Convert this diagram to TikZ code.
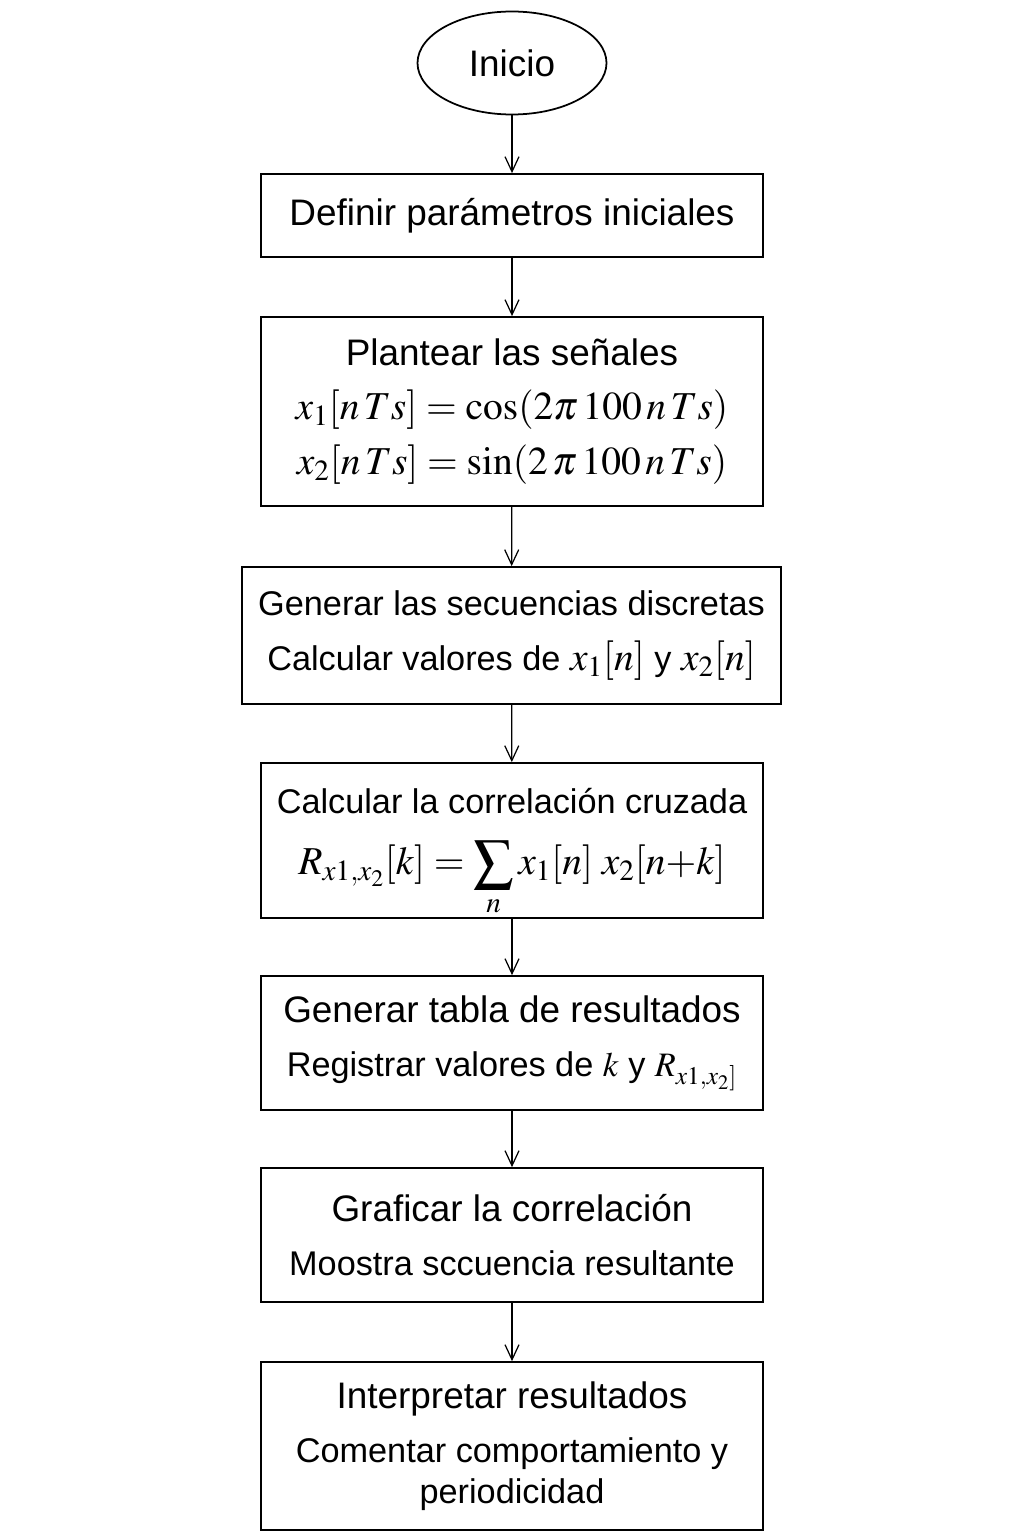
\documentclass[tikz,border=0pt]{standalone}
\usepackage{amsmath}
\usepackage{mathptmx}
\usepackage[no-math]{fontspec}
\setmainfont{Liberation Sans}
\usepackage{tikz}
\usetikzlibrary{shapes.geometric, arrows.meta}

\newcommand{\lineb}{\fontsize{19.5}{31}\selectfont}
\newcommand{\eqfont}{\fontsize{22.5}{31}\selectfont}

\begin{document}
\begin{tikzpicture}[
        box/.style = {draw, line width=1pt, rectangle, minimum width=10.04cm, align=center, inner sep=0pt,
                      font=\fontsize{21}{31}\selectfont},
        term/.style = {draw, line width=1pt, ellipse, minimum width=3.78cm, minimum height=2.06cm, inner sep=0pt,
                       font=\fontsize{21}{31}\selectfont},
        flow/.style = {-{Straight Barb[length=3mm, width=2.8mm]}, line width=0.7pt}]
                \useasboundingbox (0,0) rectangle (20.48,-30.72);

                \node[term] at (10.24, -1.26) (inicio) {Inicio};
                \node[box, minimum height=1.66cm] at (10.24, -4.31) (param) {Definir parámetros iniciales};
                \node[box, minimum height=3.78cm] at (10.24, -8.23) (senal) {Plantear las señales\\
                        \eqfont $x_1[n\,Ts] = \cos(2\pi\,100\,n\,Ts)$\\
                        \eqfont $x_2[n\,Ts] = \sin(2\,\pi\,100\,n\,Ts)$};
                \node[box, minimum height=2.74cm, minimum width=10.78cm] at (10.23, -12.71) (secu) {\lineb Generar las secuencias discretas\\
                        \lineb Calcular valores de {\eqfont$x_1[n]$} y {\eqfont$x_2[n]$}};
                \node[box, minimum height=3.10cm] at (10.24, -16.81) (corr) {\lineb\rule{0pt}{28pt}Calcular la correlación cruzada\\[4pt]
                        \eqfont $\displaystyle R_{x1,x_2}[k] = \sum_{n} x_1[n]\; x_2[n{+}k]$};
                \node[box, minimum height=2.68cm] at (10.24, -20.86) (tabla) {Generar tabla de resultados\\
                        \lineb Registrar valores de $k$ y $R_{x1,x_2]}$};
                \node[box, minimum height=2.68cm] at (10.24, -24.70) (graf) {Graficar la correlación\\
                        \lineb Moostra sccuencia resultante};
                \node[box, minimum height=3.36cm] at (10.24, -28.92) (interp) {Interpretar resultados\\
                        \lineb Comentar comportamiento y\\[-8pt]
                        \lineb periodicidad};

                \draw[flow] (inicio) -- (param);
                \draw[flow] (param) -- (senal);
                \draw[flow] (senal) -- (secu);
                \draw[flow] (secu) -- (corr);
                \draw[flow] (corr) -- (tabla);
                \draw[flow] (tabla) -- (graf);
                \draw[flow] (graf) -- (interp);
            \end{tikzpicture}
\end{document}
